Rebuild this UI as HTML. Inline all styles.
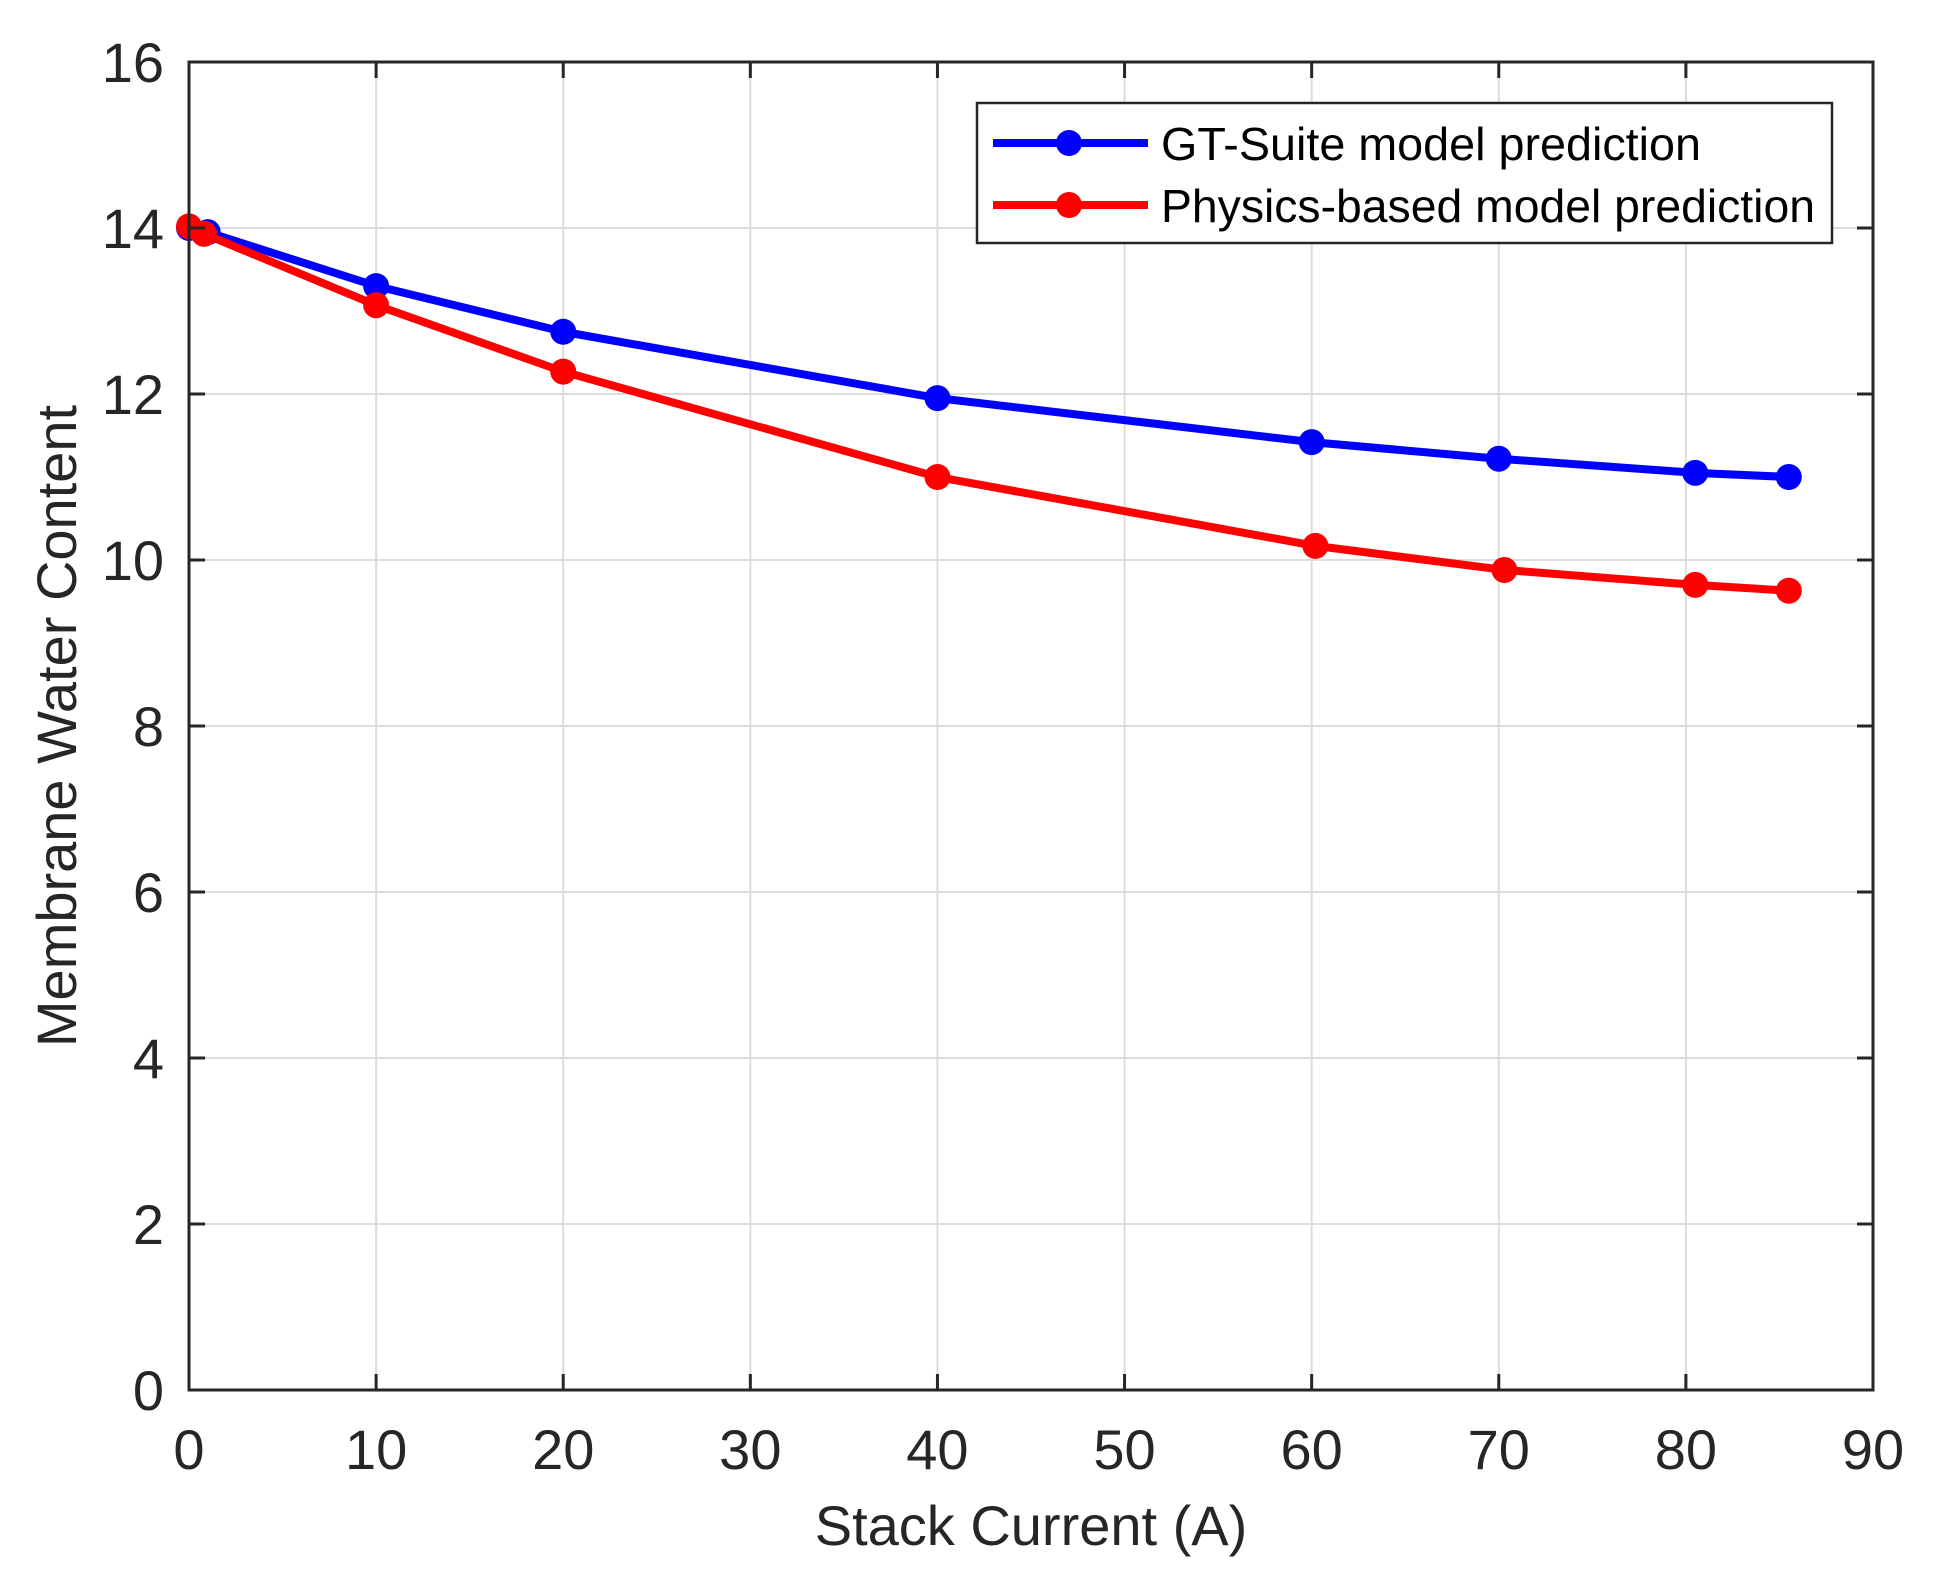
<!DOCTYPE html>
<html><head><meta charset="utf-8"><style>html,body{margin:0;padding:0;background:#fff}svg{display:block}</style></head>
<body>
<svg id="chart" width="1943" height="1593" xmlns="http://www.w3.org/2000/svg" font-family="Liberation Sans, Arial, sans-serif">
<rect width="1943" height="1593" fill="#fff"/>
<g id="grid"></g>
<g id="series"></g>
<rect x="189" y="62" width="1684" height="1328" fill="none" stroke="#262626" stroke-width="3"/>
<g id="ticks" font-size="56" fill="#262626"></g>
<text x="1031" y="1545" font-size="56" fill="#262626" text-anchor="middle">Stack Current (A)</text>
<text transform="translate(76,726) rotate(-90)" font-size="56" fill="#262626" text-anchor="middle">Membrane Water Content</text>
<g>
<rect x="977" y="103" width="855" height="140" fill="#fff" stroke="#262626" stroke-width="2.5"/>
<g>
<line x1="993" y1="143" x2="1148" y2="143" stroke="#0000ff" stroke-width="8"/>
<circle cx="1069" cy="143" r="13" fill="#0000ff"/>
<text x="1161" y="160" font-size="46" fill="#000" textLength="540" lengthAdjust="spacingAndGlyphs">GT-Suite model prediction</text>
</g>
<g>
<line x1="993" y1="205" x2="1148" y2="205" stroke="#ff0000" stroke-width="8"/>
<circle cx="1069" cy="205" r="13" fill="#ff0000"/>
<text x="1161" y="222" font-size="46" fill="#000" textLength="654" lengthAdjust="spacingAndGlyphs">Physics-based model prediction</text>
</g>
</g>
</svg>
<script>
const xTicks = [0,10,20,30,40,50,60,70,80,90];
const yTicks = [0,2,4,6,8,10,12,14,16];
const gtX = [0,1,10,20,40,60,70,80.5,85.5];
const gtY = [14,13.95,13.3,12.75,11.95,11.42,11.22,11.05,11.0];
const phX = [0,0.8,10,20,40,60.2,70.3,80.5,85.5];
const phY = [14.02,13.93,13.07,12.27,11.0,10.17,9.88,9.7,9.63];
const NS='http://www.w3.org/2000/svg';
const X0=189,X1=1873,Y0=1390,Y1=62;
const sx=v=>X0+(v-0)/(90-0)*(X1-X0);
const sy=v=>Y0-(v-0)/(16-0)*(Y0-Y1);
function mk(tag,attrs,parent){const e=document.createElementNS(NS,tag);for(const k in attrs)e.setAttribute(k,attrs[k]);parent.appendChild(e);return e;}
const grid=document.getElementById('grid'),ticks=document.getElementById('ticks'),series=document.getElementById('series');
xTicks.forEach(t=>{
  const x=sx(t);
  const g=mk('line',{x1:x,x2:x,y1:Y1,y2:Y0,stroke:'#dcdcdc','stroke-width':2},grid);
  
  
  const tk=mk('line',{x1:x,x2:x,y1:Y0,y2:Y0-16,stroke:'#262626','stroke-width':3},grid.parentNode);
  
  
  const tk2=mk('line',{x1:x,x2:x,y1:Y1,y2:Y1+16,stroke:'#262626','stroke-width':3},grid.parentNode);
  
  
  const l=mk('text',{x:x,y:1469,'text-anchor':'middle'},ticks);
  l.textContent=t;
  
  
});
yTicks.forEach(t=>{
  const y=sy(t);
  const g=mk('line',{x1:X0,x2:X1,y1:y,y2:y,stroke:'#dcdcdc','stroke-width':2},grid);
  
  
  const tk=mk('line',{x1:X0,x2:X0+16,y1:y,y2:y,stroke:'#262626','stroke-width':3},grid.parentNode);
  
  
  const tk2=mk('line',{x1:X1,x2:X1-16,y1:y,y2:y,stroke:'#262626','stroke-width':3},grid.parentNode);
  
  
  const l=mk('text',{x:164,y:y+20,'text-anchor':'end'},ticks);
  l.textContent=t;
  
  
});
function drawSeries(xs,ys,color,name){
  const g=mk('g',{},series);
  
  
  const pts=xs.map((x,i)=>sx(x)+','+sy(ys[i])).join(' ');
  const pl=mk('polyline',{points:pts,fill:'none',stroke:color,'stroke-width':8,'stroke-linejoin':'round'},g);
  
  
  xs.forEach((x,i)=>{
    const c=mk('circle',{cx:sx(x),cy:sy(ys[i]),r:13,fill:color},g);
    
    
  });
}
drawSeries(gtX,gtY,'#0000ff','gt-suite-series');
drawSeries(phX,phY,'#ff0000','physics-series');
</script>
</body></html>
